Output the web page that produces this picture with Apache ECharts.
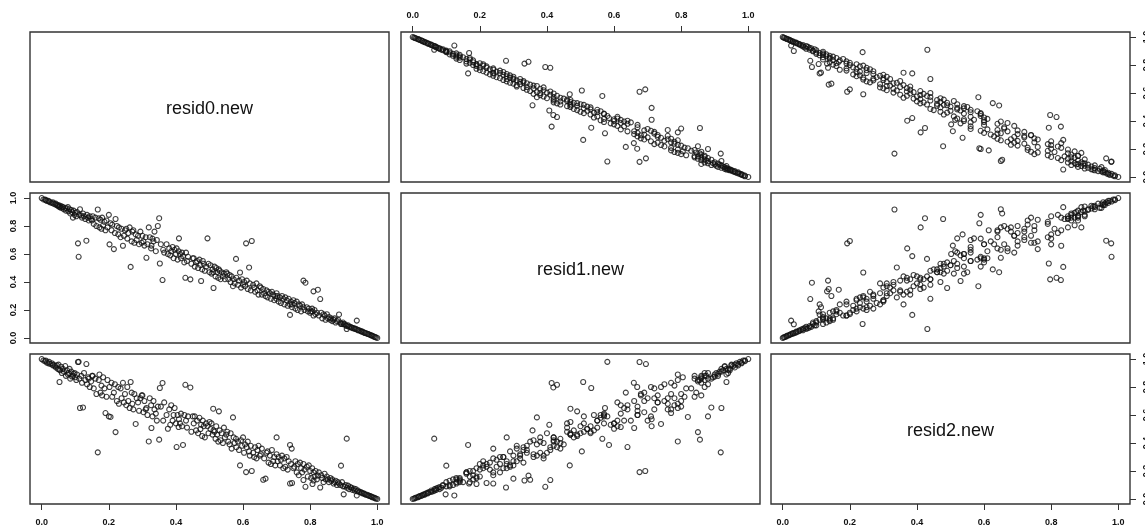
<!DOCTYPE html>
<html>
<head>
<meta charset="utf-8">
<title>resid pairs</title>
<script src="https://cdn.jsdelivr.net/npm/echarts@6/dist/echarts.min.js"></script>
<style>
  html, body { margin: 0; padding: 0; background: #fff; }
  #chart { width: 1145px; height: 529px; }
</style>
</head>
<body>
<div id="chart"></div>
<script>
// Variable names shown on the diagonal
const varNames = ['resid0.new', 'resid1.new', 'resid2.new'];

// Axis tick positions and their labels
const tickValues = [0, 0.2, 0.4, 0.6, 0.8, 1.0];
const tickLabels = ['0.0', '0.2', '0.4', '0.6', '0.8', '1.0'];

// Observations (one entry per case, same order in all three arrays)
const resid0 = [
  0.000,0.005,0.010,0.012,0.015,0.020,0.022,0.025,0.030,0.033,0.035,0.040,0.042,0.045,0.048,0.050,0.052,0.053,
  0.055,0.058,0.060,0.063,0.066,0.070,0.072,0.075,0.078,0.080,0.083,0.085,0.088,0.090,0.093,0.095,0.098,
  0.100,0.103,0.105,0.108,0.110,0.112,0.114,0.118,0.120,0.123,0.126,0.130,0.133,0.135,0.138,0.140,0.143,0.147,0.150,
  0.152,0.155,0.160,0.163,0.167,0.170,0.172,0.175,0.178,0.180,0.183,0.187,0.190,0.193,0.196,0.200,0.202,
  0.205,0.208,0.210,0.215,0.218,0.220,0.224,0.228,0.230,0.235,0.238,0.242,0.245,0.248,
  0.252,0.255,0.258,0.262,0.265,0.268,0.270,0.273,0.276,0.280,0.283,0.287,0.290,0.294,0.298,
  0.300,0.303,0.306,0.310,0.312,0.315,0.319,0.322,0.326,0.327,0.330,0.333,0.336,0.340,0.343,0.346,0.350,0.352,
  0.355,0.360,0.362,0.365,0.372,0.376,0.380,0.383,0.386,0.390,0.393,0.396,0.400,
  0.402,0.405,0.408,0.409,0.412,0.415,0.418,0.421,0.425,0.428,0.430,0.433,0.436,0.443,0.446,0.450,
  0.453,0.456,0.460,0.463,0.466,0.470,0.473,0.475,0.478,0.480,0.483,0.486,0.490,0.494,0.497,0.500,
  0.503,0.506,0.509,0.511,0.512,0.515,0.518,0.520,0.523,0.526,0.528,0.530,0.533,0.536,0.540,0.543,0.546,0.550,
  0.553,0.556,0.560,0.563,0.566,0.570,0.572,0.575,0.579,0.580,0.585,0.588,0.591,0.594,0.597,0.600,
  0.603,0.606,0.609,0.611,0.614,0.618,0.620,0.623,0.626,0.630,0.633,0.636,0.640,0.643,0.646,0.650,
  0.653,0.656,0.660,0.663,0.667,0.670,0.673,0.676,0.680,0.683,0.686,0.690,0.693,0.696,0.700,0.700,
  0.703,0.706,0.710,0.713,0.716,0.720,0.723,0.726,0.730,0.733,0.736,0.740,0.740,0.743,0.745,0.746,0.750,
  0.753,0.756,0.760,0.763,0.766,0.770,0.773,0.776,0.780,0.780,0.783,0.786,0.790,0.793,0.796,0.800,
  0.803,0.806,0.807,0.810,0.810,0.813,0.816,0.820,0.823,0.826,0.830,0.833,0.836,0.840,0.843,0.846,0.850,
  0.853,0.856,0.860,0.863,0.866,0.870,0.873,0.876,0.880,0.883,0.886,0.890,0.892,0.895,0.898,0.900,
  0.903,0.906,0.909,0.910,0.913,0.916,0.920,0.923,0.926,0.930,0.933,0.936,0.939,0.940,0.943,0.946,0.950,
  0.953,0.956,0.960,0.963,0.966,0.970,0.973,0.976,0.980,0.983,0.986,0.990,0.993,0.996,1.000
];
const resid1 = [
  1.000,0.990,0.990,0.985,0.980,0.980,0.975,0.970,0.965,0.970,0.960,0.955,0.960,0.950,0.945,0.950,0.940,0.935,
  0.945,0.930,0.940,0.935,0.920,0.930,0.910,0.925,0.935,0.905,0.920,0.890,0.915,0.900,0.860,0.910,0.880,
  0.895,0.870,0.900,0.676,0.580,0.880,0.920,0.875,0.860,0.890,0.870,0.850,0.695,0.880,0.860,0.840,0.870,0.850,0.840,
  0.870,0.815,0.860,0.800,0.918,0.855,0.790,0.845,0.780,0.860,0.805,0.830,0.770,0.840,0.790,0.880,0.669,
  0.820,0.770,0.810,0.635,0.750,0.850,0.800,0.740,0.790,0.720,0.780,0.659,0.730,0.770,
  0.780,0.710,0.750,0.790,0.508,0.690,0.760,0.770,0.680,0.740,0.700,0.730,0.670,0.760,0.680,
  0.730,0.690,0.660,0.720,0.573,0.670,0.790,0.720,0.640,0.660,0.710,0.690,0.760,0.620,0.700,0.800,0.856,0.532,
  0.670,0.414,0.630,0.610,0.670,0.600,0.640,0.590,0.620,0.650,0.570,0.630,0.600,
  0.640,0.560,0.620,0.712,0.600,0.570,0.610,0.585,0.540,0.430,0.610,0.550,0.580,0.419,0.530,0.570,
  0.570,0.510,0.540,0.550,0.500,0.560,0.520,0.407,0.490,0.550,0.530,0.480,0.510,0.712,0.530,0.470,
  0.520,0.460,0.490,0.470,0.357,0.510,0.440,0.500,0.470,0.430,0.490,0.480,0.420,0.470,0.440,0.460,0.420,0.470,
  0.460,0.420,0.450,0.400,0.440,0.370,0.420,0.390,0.565,0.430,0.380,0.410,0.468,0.360,0.420,0.380,
  0.400,0.370,0.676,0.410,0.350,0.504,0.390,0.340,0.693,0.380,0.360,0.330,0.390,0.340,0.310,0.370,
  0.360,0.310,0.350,0.320,0.300,0.340,0.290,0.330,0.320,0.280,0.330,0.310,0.270,0.300,0.320,0.280,
  0.300,0.260,0.290,0.250,0.300,0.280,0.240,0.290,0.270,0.230,0.280,0.165,0.240,0.260,0.240,0.220,0.270,
  0.250,0.210,0.260,0.200,0.240,0.230,0.190,0.240,0.220,0.410,0.200,0.395,0.220,0.190,0.210,0.180,
  0.190,0.210,0.190,0.160,0.333,0.200,0.170,0.180,0.345,0.160,0.278,0.180,0.140,0.170,0.160,0.130,0.170,
  0.140,0.150,0.130,0.140,0.120,0.130,0.140,0.110,0.120,0.130,0.168,0.110,0.100,0.100,0.110,0.098,
  0.100,0.090,0.064,0.085,0.090,0.080,0.080,0.075,0.070,0.070,0.065,0.065,0.124,0.060,0.055,0.055,0.050,
  0.045,0.045,0.040,0.035,0.035,0.030,0.028,0.025,0.020,0.018,0.015,0.010,0.007,0.004,0.000
];
const resid2 = [
  1.000,0.990,0.985,0.990,0.975,0.970,0.980,0.965,0.970,0.955,0.960,0.950,0.940,0.955,0.930,0.960,0.925,0.836,
  0.920,0.945,0.900,0.930,0.910,0.950,0.880,0.920,0.890,0.900,0.930,0.860,0.910,0.875,0.880,0.895,0.900,
  0.870,0.850,0.890,0.979,0.980,0.860,0.650,0.880,0.830,0.654,0.900,0.850,0.964,0.820,0.870,0.860,0.800,0.840,0.880,
  0.880,0.790,0.860,0.750,0.333,0.850,0.890,0.760,0.810,0.740,0.870,0.790,0.614,0.730,0.850,0.590,0.800,
  0.586,0.830,0.730,0.760,0.820,0.478,0.700,0.800,0.680,0.790,0.720,0.830,0.690,0.750,
  0.670,0.800,0.700,0.650,0.836,0.760,0.680,0.640,0.750,0.536,0.720,0.690,0.630,0.720,0.740,
  0.740,0.620,0.700,0.640,0.650,0.600,0.411,0.720,0.670,0.507,0.590,0.700,0.640,0.610,0.560,0.660,0.424,0.793,
  0.660,0.829,0.560,0.690,0.600,0.502,0.640,0.530,0.670,0.560,0.600,0.650,0.540,
  0.371,0.600,0.514,0.570,0.540,0.610,0.520,0.386,0.600,0.816,0.560,0.510,0.590,0.797,0.480,0.590,
  0.540,0.590,0.490,0.560,0.470,0.580,0.500,0.530,0.450,0.560,0.520,0.440,0.540,0.520,0.470,0.550,
  0.500,0.540,0.460,0.645,0.490,0.480,0.430,0.520,0.460,0.410,0.626,0.490,0.420,0.470,0.400,0.510,0.440,0.460,
  0.480,0.410,0.390,0.470,0.360,0.583,0.440,0.400,0.430,0.370,0.410,0.350,0.240,0.420,0.380,0.440,
  0.330,0.390,0.192,0.370,0.410,0.340,0.310,0.380,0.200,0.330,0.300,0.370,0.290,0.350,0.380,0.310,
  0.320,0.360,0.137,0.290,0.145,0.330,0.340,0.260,0.310,0.250,0.350,0.270,0.300,0.240,0.320,0.440,
  0.270,0.300,0.240,0.280,0.310,0.220,0.290,0.230,0.300,0.210,0.270,0.386,0.110,0.250,0.360,0.114,0.220,
  0.230,0.270,0.190,0.250,0.170,0.260,0.220,0.190,0.250,0.135,0.210,0.087,0.230,0.160,0.240,0.200,
  0.150,0.220,0.107,0.190,0.132,0.160,0.200,0.140,0.167,0.190,0.082,0.170,0.150,0.120,0.180,0.140,0.160,
  0.140,0.120,0.150,0.130,0.140,0.110,0.120,0.130,0.100,0.120,0.110,0.100,0.238,0.120,0.090,0.033,
  0.090,0.100,0.431,0.080,0.095,0.070,0.085,0.080,0.065,0.075,0.060,0.070,0.025,0.055,0.060,0.050,0.050,
  0.045,0.040,0.040,0.035,0.030,0.030,0.025,0.022,0.020,0.016,0.012,0.010,0.006,0.003,0.000
];

const vars = [resid0, resid1, resid2];

// Panel geometry
const colLeft = [30, 401, 771];
const rowTop = [32, 193, 354];
const panelW = 359;
const panelH = 150;
const xRange = [-0.035, 1.035];
const yRange = [-0.036, 1.036];

const font = 'Liberation Sans, Arial, sans-serif';
const labelStyle = { fontFamily: font, fontSize: 9, fontWeight: 'bold', color: '#111' };
const fmt = v => tickLabels[tickValues.indexOf(Math.round(v * 10) / 10)] ?? v.toFixed(1);

const grids = [], xAxes = [], yAxes = [], series = [], graphics = [];

for (let i = 0; i < 3; i++) {
  for (let j = 0; j < 3; j++) {
    const k = i * 3 + j;
    grids.push({
      left: colLeft[j], top: rowTop[i], width: panelW, height: panelH,
      containLabel: false, outerBoundsMode: 'none',
      show: true, borderColor: '#333', borderWidth: 1.4, backgroundColor: 'transparent'
    });

    // alternating axes around the matrix
    const topX = (i === 0 && j % 2 === 1);
    const bottomX = (i === 2 && j % 2 === 0);
    const leftY = (j === 0 && i % 2 === 1);
    const rightY = (j === 2 && i % 2 === 0);

    xAxes.push({
      type: 'value', gridIndex: k, min: xRange[0], max: xRange[1],
      position: topX ? 'top' : 'bottom',
      axisLine: { show: false, onZero: false },
      splitLine: { show: false },
      axisTick: { show: topX || bottomX, customValues: tickValues, length: 6, lineStyle: { color: '#333', width: 1 } },
      axisLabel: { show: topX || bottomX, customValues: tickValues, formatter: fmt,
        margin: topX ? 12 : 14, ...labelStyle }
    });
    yAxes.push({
      type: 'value', gridIndex: k, min: yRange[0], max: yRange[1],
      position: rightY ? 'right' : 'left',
      axisLine: { show: false, onZero: false },
      splitLine: { show: false },
      axisTick: { show: leftY || rightY, customValues: tickValues, length: 6, lineStyle: { color: '#333', width: 1 } },
      axisLabel: { show: leftY || rightY, customValues: tickValues, formatter: fmt,
        rotate: 90, margin: 12, ...labelStyle }
    });

    if (i === j) {
      graphics.push({
        type: 'text',
        x: colLeft[j] + panelW / 2,
        y: rowTop[i] + panelH / 2 + 2,
        style: { text: varNames[i], fontFamily: font, fontSize: 18, fill: '#111',
          align: 'center', verticalAlign: 'middle' }
      });
    } else {
      const xs = vars[j], ys = vars[i];
      series.push({
        type: 'scatter', xAxisIndex: k, yAxisIndex: k,
        data: xs.map((x, n) => [x, ys[n]]),
        symbol: 'circle', symbolSize: 5,
        itemStyle: { color: 'rgba(0,0,0,0)', borderColor: '#111', borderWidth: 1.1 },
        emphasis: { disabled: true },
        silent: true
      });
    }
  }
}

const chart = echarts.init(document.getElementById('chart'), null, { renderer: 'canvas' });
chart.setOption({
  animation: false,
  backgroundColor: '#fff',
  grid: grids,
  xAxis: xAxes,
  yAxis: yAxes,
  series: series,
  graphic: graphics
});
</script>
</body>
</html>
